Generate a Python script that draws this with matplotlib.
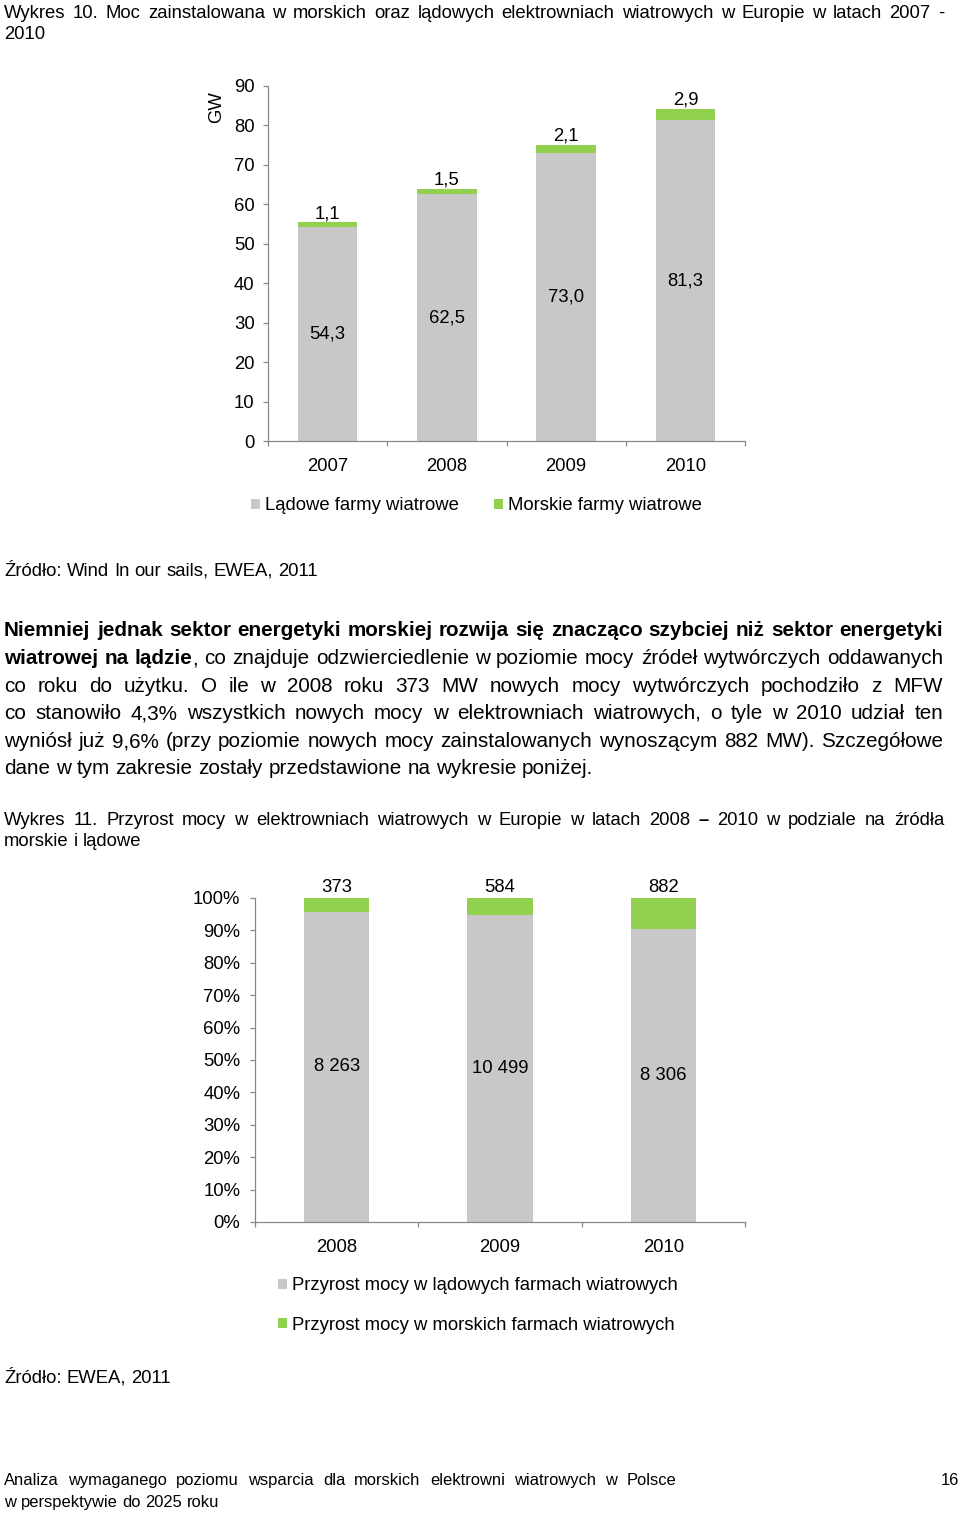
import matplotlib
matplotlib.use("Agg")
import matplotlib.pyplot as plt
from matplotlib.patches import Patch
from matplotlib import font_manager

plt.rcParams['font.family'] = ['Liberation Sans', 'DejaVu Sans']

# Wykres 10 - moc zainstalowana (GW)
years_total = ['2007', '2008', '2009', '2010']
onshore_gw = [54.3, 62.5, 73.0, 81.3]
offshore_gw = [1.1, 1.5, 2.1, 2.9]
gw_ticks = [0, 10, 20, 30, 40, 50, 60, 70, 80, 90]

# Wykres 11 - przyrost mocy (MW)
years_growth = ['2008', '2009', '2010']
onshore_mw = [8263, 10499, 8306]
offshore_mw = [373, 584, 882]
pct_ticks = [0, 10, 20, 30, 40, 50, 60, 70, 80, 90, 100]

GRAY = '#C8C8C8'
GREEN = '#92D050'
AXC = '#888888'
W, H = 960, 1514
FS = 13.3

fig = plt.figure(figsize=(W / 100, H / 100), dpi=100)
renderer = fig.canvas.get_renderer()

names = {f.name for f in font_manager.fontManager.ttflist}
PARA_FAM = ['Liberation Sans Narrow', 'Liberation Sans'] if 'Liberation Sans Narrow' in names else ['Liberation Sans']


def fx(x):
    return x / W


def fy(y):
    return 1 - y / H


def measure(s, size, family=None, weight='normal'):
    kw = {'family': family} if family else {}
    t = fig.text(0, 0, s, fontsize=size, weight=weight, **kw)
    w = t.get_window_extent(renderer).width
    t.remove()
    return w


def split_words(runs):
    words = []
    attach = False
    for text, wt in runs:
        parts = text.split(' ')
        for i, p in enumerate(parts):
            if i == 0 and attach and words:
                if p:
                    words[-1].append((p, wt))
            elif p:
                words.append([(p, wt)])
        attach = not text.endswith(' ')
    return words


def line(yc, runs, size=FS, family=None, x0=4, x1=944, justify=True):
    kw = {'family': family} if family else {}
    words = split_words(runs)
    widths = [[measure(s, size, family, wt) for s, wt in w] for w in words]
    total = sum(sum(w) for w in widths)
    if justify and len(words) > 1:
        gap = (x1 - x0 - total) / (len(words) - 1)
    else:
        gap = measure('a b', size, family) - measure('ab', size, family)
    base = yc + 0.36 * size * 100 / 72
    x = x0
    for w, ws in zip(words, widths):
        for (s, wt), sw in zip(w, ws):
            fig.text(fx(x), fy(base), s, fontsize=size, weight=wt, va='baseline', ha='left', **kw)
            x += sw
        x += gap


def style_axes(ax):
    for sp in ['top', 'right']:
        ax.spines[sp].set_visible(False)
    for sp in ['left', 'bottom']:
        ax.spines[sp].set_color(AXC)
        ax.spines[sp].set_linewidth(0.9)
    ax.tick_params(axis='y', direction='out', length=3.6, width=0.9, color=AXC, labelsize=FS, pad=6)
    ax.tick_params(axis='x', which='major', direction='out', length=3.6, width=0.9, color=AXC, labelbottom=False)
    ax.tick_params(axis='x', which='minor', length=0, labelsize=FS, pad=12)


def fmt_pl(v):
    return f"{v:.1f}".replace('.', ',')


def fmt_mw(v):
    return f"{v:,}".replace(',', ' ')


# ---- teksty naglowka ----
line(11, [("Wykres 10. Moc zainstalowana w morskich oraz lądowych elektrowniach wiatrowych w Europie w latach 2007 -", 'normal')])
line(32, [("2010", 'normal')], justify=False)

# ---- Wykres 10 ----
ax1 = fig.add_axes([fx(268), fy(441), fx(745) - fx(268), (441 - 86) / H])
x1 = list(range(len(years_total)))
ax1.bar(x1, onshore_gw, width=0.5, color=GRAY)
ax1.bar(x1, offshore_gw, width=0.5, bottom=onshore_gw, color=GREEN)
ax1.set_xlim(-0.5, len(years_total) - 0.5)
ax1.set_ylim(0, 90)
ax1.set_yticks(gw_ticks)
ax1.set_xticks([i - 0.5 for i in range(len(years_total) + 1)])
ax1.set_xticks(x1, minor=True)
ax1.set_xticklabels(years_total, minor=True)
style_axes(ax1)
for i in x1:
    ax1.text(i, onshore_gw[i] / 2, fmt_pl(onshore_gw[i]), ha='center', va='center', fontsize=FS)
    ax1.annotate(fmt_pl(offshore_gw[i]), (i, onshore_gw[i] + offshore_gw[i]), xytext=(0, 3),
                 textcoords='offset points', ha='center', va='baseline', fontsize=FS)
fig.text(fx(217), fy(107), 'GW', rotation=90, ha='center', va='center', fontsize=FS)

fig.legend(handles=[Patch(facecolor=GRAY, edgecolor='none'), Patch(facecolor=GREEN, edgecolor='none')],
           labels=['Lądowe farmy wiatrowe', 'Morskie farmy wiatrowe'],
           loc='center left', bbox_to_anchor=(fx(251), fy(506)), ncol=2, frameon=False,
           handlelength=0.5, handleheight=0.5, handletextpad=0.25, columnspacing=1.9,
           borderpad=0, borderaxespad=0, fontsize=FS)

line(569, [("Źródło: Wind In our sails, EWEA, 2011", 'normal')], justify=False)

# ---- akapit ----
last = "dane w tym zakresie zostały przedstawione na wykresie poniżej."
psize = 10 * 591 / measure(last, 10, PARA_FAM)
para = [
    [("Niemniej jednak sektor energetyki morskiej rozwija się znacząco szybciej niż sektor energetyki", 'bold')],
    [("wiatrowej na lądzie", 'bold'), (", co znajduje odzwierciedlenie w poziomie mocy źródeł wytwórczych oddawanych", 'normal')],
    [("co roku do użytku. O ile w 2008 roku 373 MW nowych mocy wytwórczych pochodziło z MFW", 'normal')],
    [("co stanowiło 4,3% wszystkich nowych mocy w elektrowniach wiatrowych, o tyle w 2010 udział ten", 'normal')],
    [("wyniósł już 9,6% (przy poziomie nowych mocy zainstalowanych wynoszącym 882 MW). Szczegółowe", 'normal')],
    [(last, 'normal')],
]
para_y = [629, 657, 685, 712, 740, 767]
for k, (runs, yc) in enumerate(zip(para, para_y)):
    line(yc, runs, size=psize, family=PARA_FAM, x1=943, justify=k < len(para) - 1)

line(818, [("Wykres 11. Przyrost mocy w elektrowniach wiatrowych w Europie w latach 2008 ", 'normal'),
           ("–", 'bold'), (" 2010 w podziale na źródła", 'normal')])
line(839, [("morskie i lądowe", 'normal')], justify=False)

# ---- Wykres 11 ----
ax2 = fig.add_axes([fx(255), fy(1222), fx(745) - fx(255), (1222 - 898) / H])
x2 = list(range(len(years_growth)))
tot = [a + b for a, b in zip(onshore_mw, offshore_mw)]
on_sh = [a / t for a, t in zip(onshore_mw, tot)]
off_sh = [b / t for b, t in zip(offshore_mw, tot)]
ax2.bar(x2, on_sh, width=0.4, color=GRAY)
ax2.bar(x2, off_sh, width=0.4, bottom=on_sh, color=GREEN)
ax2.set_xlim(-0.5, len(years_growth) - 0.5)
ax2.set_ylim(0, 1)
ax2.set_yticks([p / 100 for p in pct_ticks])
ax2.set_yticklabels([f"{p}%" for p in pct_ticks])
ax2.set_xticks([i - 0.5 for i in range(len(years_growth) + 1)])
ax2.set_xticks(x2, minor=True)
ax2.set_xticklabels(years_growth, minor=True)
style_axes(ax2)
ax2.tick_params(axis='y', pad=7)
for i in x2:
    ax2.text(i, on_sh[i] / 2, fmt_mw(onshore_mw[i]), ha='center', va='center', fontsize=FS)
    ax2.annotate(fmt_mw(offshore_mw[i]), (i, 1), xytext=(0, 4.5), textcoords='offset points',
                 ha='center', va='baseline', fontsize=FS)

fig.legend(handles=[Patch(facecolor=GRAY, edgecolor='none'), Patch(facecolor=GREEN, edgecolor='none')],
           labels=['Przyrost mocy w lądowych farmach wiatrowych', 'Przyrost mocy w morskich farmach wiatrowych'],
           loc='center left', bbox_to_anchor=(fx(278), fy(1305.5)), ncol=1, frameon=False,
           handlelength=0.5, handleheight=0.5, handletextpad=0.25, labelspacing=1.2,
           borderpad=0, borderaxespad=0, fontsize=FS)

line(1376, [("Źródło: EWEA, 2011", 'normal')], justify=False)

# ---- stopka ----
line(1479, [("Analiza wymaganego poziomu wsparcia dla morskich elektrowni wiatrowych w Polsce", 'normal')],
     size=11.9, x1=676)
line(1501, [("w perspektywie do 2025 roku", 'normal')], size=11.9, justify=False)
fig.text(fx(959), fy(1479 + 0.36 * 11.9 * 100 / 72), '16', ha='right', va='baseline', fontsize=11.9)

fig.savefig('out.png', dpi=100)
